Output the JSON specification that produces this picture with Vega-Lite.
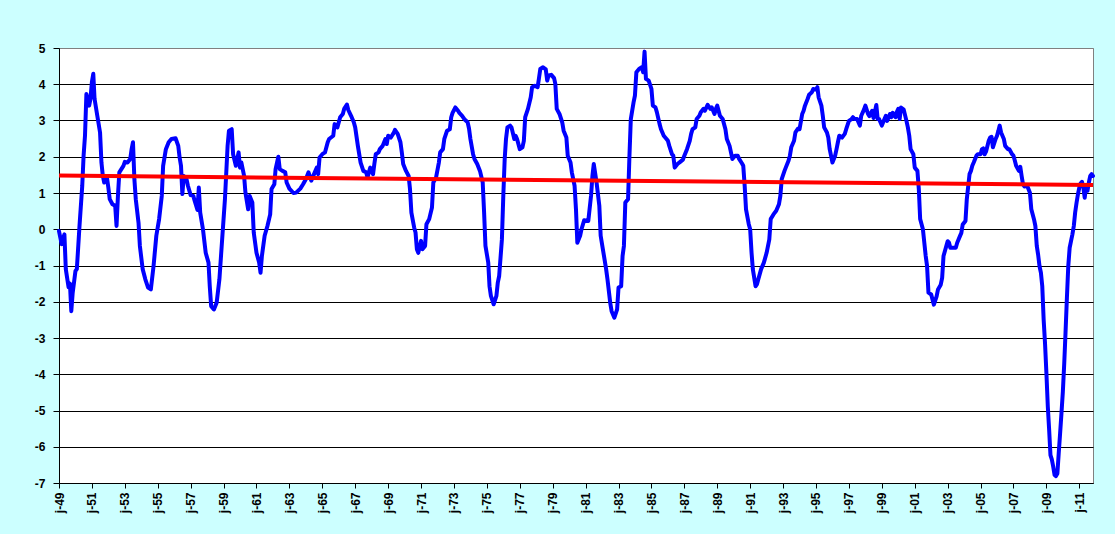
{
  "$schema": "https://vega.github.io/schema/vega-lite/v6.json",
  "width": 1034,
  "height": 435,
  "autosize": {"type": "none"},
  "padding": {"left": 59, "top": 48, "right": 22, "bottom": 51},
  "background": "#CCFFFF",
  "config": {
    "view": {"fill": "white", "stroke": "#808080", "strokeWidth": 1},
    "axis": {
      "labelFont": "Liberation Sans",
      "labelFontWeight": "bold",
      "labelFontSize": 12,
      "labelColor": "black",
      "domainColor": "black",
      "tickColor": "black",
      "title": null
    }
  },
  "datasets": {
    "series": [
      {"month": "1949-01-01", "value": -0.05}, {"month": "1949-03-01", "value": -0.41}, {"month": "1949-05-01", "value": -0.14},
      {"month": "1949-06-01", "value": -1.1}, {"month": "1949-08-01", "value": -1.6}, {"month": "1949-09-01", "value": -1.5},
      {"month": "1949-10-01", "value": -2.26}, {"month": "1949-11-01", "value": -1.75}, {"month": "1950-01-01", "value": -1.15},
      {"month": "1950-02-01", "value": -1.1}, {"month": "1950-04-01", "value": 0.09}, {"month": "1950-06-01", "value": 1.2},
      {"month": "1950-07-01", "value": 2.03}, {"month": "1950-08-01", "value": 2.58}, {"month": "1950-09-01", "value": 3.73},
      {"month": "1950-11-01", "value": 3.41}, {"month": "1950-12-01", "value": 3.6}, {"month": "1951-01-01", "value": 4.06},
      {"month": "1951-02-01", "value": 4.29}, {"month": "1951-03-01", "value": 3.6}, {"month": "1951-05-01", "value": 3.13},
      {"month": "1951-07-01", "value": 2.67}, {"month": "1951-08-01", "value": 1.84}, {"month": "1951-09-01", "value": 1.47},
      {"month": "1951-10-01", "value": 1.29}, {"month": "1951-12-01", "value": 1.43}, {"month": "1952-01-01", "value": 1.15},
      {"month": "1952-02-01", "value": 0.83}, {"month": "1952-04-01", "value": 0.69}, {"month": "1952-06-01", "value": 0.65},
      {"month": "1952-07-01", "value": 0.09}, {"month": "1952-08-01", "value": 0.92}, {"month": "1952-09-01", "value": 1.57},
      {"month": "1952-12-01", "value": 1.75}, {"month": "1953-01-01", "value": 1.86}, {"month": "1953-03-01", "value": 1.84},
      {"month": "1953-05-01", "value": 1.94}, {"month": "1953-06-01", "value": 2.21}, {"month": "1953-07-01", "value": 2.4},
      {"month": "1953-08-01", "value": 1.38}, {"month": "1953-09-01", "value": 0.83}, {"month": "1953-11-01", "value": 0.18},
      {"month": "1953-12-01", "value": -0.46}, {"month": "1954-02-01", "value": -1.1}, {"month": "1954-04-01", "value": -1.38},
      {"month": "1954-06-01", "value": -1.61}, {"month": "1954-08-01", "value": -1.66}, {"month": "1954-10-01", "value": -1.01},
      {"month": "1954-12-01", "value": -0.18}, {"month": "1955-02-01", "value": 0.28}, {"month": "1955-04-01", "value": 0.92},
      {"month": "1955-05-01", "value": 1.75}, {"month": "1955-07-01", "value": 2.21}, {"month": "1955-09-01", "value": 2.4},
      {"month": "1955-11-01", "value": 2.49}, {"month": "1956-02-01", "value": 2.51}, {"month": "1956-04-01", "value": 2.3},
      {"month": "1956-05-01", "value": 1.98}, {"month": "1956-06-01", "value": 1.75}, {"month": "1956-07-01", "value": 0.97},
      {"month": "1956-08-01", "value": 1.47}, {"month": "1956-10-01", "value": 1.38}, {"month": "1956-11-01", "value": 1.2},
      {"month": "1957-01-01", "value": 0.94}, {"month": "1957-03-01", "value": 0.92}, {"month": "1957-04-01", "value": 0.78},
      {"month": "1957-06-01", "value": 0.53}, {"month": "1957-07-01", "value": 1.15}, {"month": "1957-08-01", "value": 0.46},
      {"month": "1957-10-01", "value": 0}, {"month": "1957-12-01", "value": -0.65}, {"month": "1958-02-01", "value": -0.92},
      {"month": "1958-03-01", "value": -1.57}, {"month": "1958-04-01", "value": -2.12}, {"month": "1958-06-01", "value": -2.21},
      {"month": "1958-08-01", "value": -2.03}, {"month": "1958-10-01", "value": -1.38}, {"month": "1958-12-01", "value": -0.28},
      {"month": "1959-02-01", "value": 0.83}, {"month": "1959-04-01", "value": 2.3}, {"month": "1959-05-01", "value": 2.72},
      {"month": "1959-07-01", "value": 2.76}, {"month": "1959-08-01", "value": 2.07}, {"month": "1959-10-01", "value": 1.75},
      {"month": "1959-12-01", "value": 2.12}, {"month": "1960-01-01", "value": 1.7}, {"month": "1960-02-01", "value": 1.84},
      {"month": "1960-04-01", "value": 1.47}, {"month": "1960-05-01", "value": 1.01}, {"month": "1960-07-01", "value": 0.55},
      {"month": "1960-08-01", "value": 0.92}, {"month": "1960-10-01", "value": 0.74}, {"month": "1960-11-01", "value": -0.09},
      {"month": "1961-01-01", "value": -0.65}, {"month": "1961-03-01", "value": -0.92}, {"month": "1961-04-01", "value": -1.2},
      {"month": "1961-05-01", "value": -0.74}, {"month": "1961-07-01", "value": -0.18}, {"month": "1961-09-01", "value": 0.09},
      {"month": "1961-11-01", "value": 0.41}, {"month": "1961-12-01", "value": 1.11}, {"month": "1962-02-01", "value": 1.24},
      {"month": "1962-03-01", "value": 1.66}, {"month": "1962-05-01", "value": 2.0}, {"month": "1962-06-01", "value": 1.66},
      {"month": "1962-08-01", "value": 1.61}, {"month": "1962-10-01", "value": 1.57}, {"month": "1962-11-01", "value": 1.29},
      {"month": "1963-01-01", "value": 1.12}, {"month": "1963-04-01", "value": 1.0}, {"month": "1963-06-01", "value": 1.01},
      {"month": "1963-09-01", "value": 1.12}, {"month": "1963-11-01", "value": 1.24}, {"month": "1964-01-01", "value": 1.38},
      {"month": "1964-03-01", "value": 1.57}, {"month": "1964-05-01", "value": 1.34}, {"month": "1964-07-01", "value": 1.52},
      {"month": "1964-09-01", "value": 1.7}, {"month": "1964-10-01", "value": 1.52}, {"month": "1964-11-01", "value": 1.98},
      {"month": "1965-01-01", "value": 2.07}, {"month": "1965-03-01", "value": 2.12}, {"month": "1965-05-01", "value": 2.4},
      {"month": "1965-06-01", "value": 2.49}, {"month": "1965-09-01", "value": 2.58}, {"month": "1965-10-01", "value": 2.9},
      {"month": "1965-12-01", "value": 2.81}, {"month": "1966-02-01", "value": 3.09}, {"month": "1966-04-01", "value": 3.18},
      {"month": "1966-05-01", "value": 3.32}, {"month": "1966-07-01", "value": 3.44}, {"month": "1966-08-01", "value": 3.29},
      {"month": "1966-10-01", "value": 3.13}, {"month": "1966-12-01", "value": 2.95}, {"month": "1967-01-01", "value": 2.81},
      {"month": "1967-03-01", "value": 2.3}, {"month": "1967-05-01", "value": 1.84}, {"month": "1967-07-01", "value": 1.61},
      {"month": "1967-09-01", "value": 1.57}, {"month": "1967-10-01", "value": 1.43}, {"month": "1967-12-01", "value": 1.7},
      {"month": "1968-02-01", "value": 1.52}, {"month": "1968-03-01", "value": 1.8}, {"month": "1968-04-01", "value": 2.07},
      {"month": "1968-06-01", "value": 2.12}, {"month": "1968-07-01", "value": 2.21}, {"month": "1968-09-01", "value": 2.3},
      {"month": "1968-11-01", "value": 2.49}, {"month": "1968-12-01", "value": 2.35}, {"month": "1969-01-01", "value": 2.58},
      {"month": "1969-03-01", "value": 2.53}, {"month": "1969-05-01", "value": 2.65}, {"month": "1969-06-01", "value": 2.74},
      {"month": "1969-08-01", "value": 2.63}, {"month": "1969-10-01", "value": 2.4}, {"month": "1969-11-01", "value": 2.12},
      {"month": "1969-12-01", "value": 1.8}, {"month": "1970-02-01", "value": 1.61}, {"month": "1970-04-01", "value": 1.47},
      {"month": "1970-05-01", "value": 1.11}, {"month": "1970-06-01", "value": 0.46}, {"month": "1970-08-01", "value": 0.05},
      {"month": "1970-09-01", "value": -0.09}, {"month": "1970-10-01", "value": -0.55}, {"month": "1970-11-01", "value": -0.65},
      {"month": "1971-01-01", "value": -0.32}, {"month": "1971-02-01", "value": -0.55}, {"month": "1971-04-01", "value": -0.46},
      {"month": "1971-05-01", "value": 0.14}, {"month": "1971-07-01", "value": 0.28}, {"month": "1971-09-01", "value": 0.6},
      {"month": "1971-10-01", "value": 1.29}, {"month": "1971-12-01", "value": 1.43}, {"month": "1972-02-01", "value": 1.84},
      {"month": "1972-03-01", "value": 2.12}, {"month": "1972-05-01", "value": 2.21}, {"month": "1972-06-01", "value": 2.49},
      {"month": "1972-08-01", "value": 2.72}, {"month": "1972-10-01", "value": 2.76}, {"month": "1972-11-01", "value": 3.09},
      {"month": "1972-12-01", "value": 3.21}, {"month": "1973-02-01", "value": 3.36}, {"month": "1973-04-01", "value": 3.27},
      {"month": "1973-05-01", "value": 3.21}, {"month": "1973-07-01", "value": 3.13}, {"month": "1973-09-01", "value": 3.02},
      {"month": "1973-11-01", "value": 2.95}, {"month": "1973-12-01", "value": 2.78}, {"month": "1974-01-01", "value": 2.49},
      {"month": "1974-03-01", "value": 2.07}, {"month": "1974-04-01", "value": 1.94}, {"month": "1974-06-01", "value": 1.8},
      {"month": "1974-08-01", "value": 1.61}, {"month": "1974-10-01", "value": 1.29}, {"month": "1974-11-01", "value": 0.46},
      {"month": "1974-12-01", "value": -0.46}, {"month": "1975-02-01", "value": -0.92}, {"month": "1975-03-01", "value": -1.57},
      {"month": "1975-04-01", "value": -1.84}, {"month": "1975-06-01", "value": -2.07}, {"month": "1975-08-01", "value": -1.84},
      {"month": "1975-09-01", "value": -1.47}, {"month": "1975-10-01", "value": -1.29}, {"month": "1975-12-01", "value": -0.28},
      {"month": "1976-01-01", "value": 0.92}, {"month": "1976-02-01", "value": 1.94}, {"month": "1976-03-01", "value": 2.49},
      {"month": "1976-04-01", "value": 2.81}, {"month": "1976-06-01", "value": 2.86}, {"month": "1976-07-01", "value": 2.81},
      {"month": "1976-09-01", "value": 2.49}, {"month": "1976-10-01", "value": 2.58}, {"month": "1976-11-01", "value": 2.49},
      {"month": "1977-01-01", "value": 2.21}, {"month": "1977-03-01", "value": 2.26}, {"month": "1977-04-01", "value": 2.44},
      {"month": "1977-05-01", "value": 3.09}, {"month": "1977-07-01", "value": 3.32}, {"month": "1977-09-01", "value": 3.64},
      {"month": "1977-10-01", "value": 3.92}, {"month": "1977-12-01", "value": 3.96}, {"month": "1978-02-01", "value": 3.92},
      {"month": "1978-03-01", "value": 4.15}, {"month": "1978-04-01", "value": 4.42}, {"month": "1978-06-01", "value": 4.47},
      {"month": "1978-08-01", "value": 4.41}, {"month": "1978-09-01", "value": 4.1}, {"month": "1978-10-01", "value": 4.24},
      {"month": "1978-12-01", "value": 4.26}, {"month": "1979-02-01", "value": 4.17}, {"month": "1979-03-01", "value": 4.01},
      {"month": "1979-04-01", "value": 3.32}, {"month": "1979-06-01", "value": 3.18}, {"month": "1979-08-01", "value": 2.95},
      {"month": "1979-09-01", "value": 2.72}, {"month": "1979-11-01", "value": 2.53}, {"month": "1979-12-01", "value": 2.03},
      {"month": "1980-02-01", "value": 1.84}, {"month": "1980-03-01", "value": 1.57}, {"month": "1980-05-01", "value": 1.2},
      {"month": "1980-06-01", "value": 0.55}, {"month": "1980-07-01", "value": -0.37}, {"month": "1980-09-01", "value": -0.18},
      {"month": "1980-10-01", "value": 0}, {"month": "1980-12-01", "value": 0.25}, {"month": "1981-03-01", "value": 0.23},
      {"month": "1981-05-01", "value": 0.92}, {"month": "1981-06-01", "value": 1.47}, {"month": "1981-07-01", "value": 1.8},
      {"month": "1981-09-01", "value": 1.29}, {"month": "1981-11-01", "value": 0.65}, {"month": "1981-12-01", "value": -0.18},
      {"month": "1982-02-01", "value": -0.65}, {"month": "1982-04-01", "value": -1.1}, {"month": "1982-05-01", "value": -1.38},
      {"month": "1982-07-01", "value": -2.03}, {"month": "1982-08-01", "value": -2.26}, {"month": "1982-10-01", "value": -2.44},
      {"month": "1982-12-01", "value": -2.21}, {"month": "1983-01-01", "value": -1.61}, {"month": "1983-03-01", "value": -1.57},
      {"month": "1983-04-01", "value": -0.74}, {"month": "1983-05-01", "value": -0.46}, {"month": "1983-06-01", "value": 0.74},
      {"month": "1983-08-01", "value": 0.83}, {"month": "1983-09-01", "value": 2.03}, {"month": "1983-10-01", "value": 3.04},
      {"month": "1983-12-01", "value": 3.5}, {"month": "1984-01-01", "value": 3.69}, {"month": "1984-02-01", "value": 4.33},
      {"month": "1984-04-01", "value": 4.42}, {"month": "1984-06-01", "value": 4.47}, {"month": "1984-07-01", "value": 4.33},
      {"month": "1984-08-01", "value": 4.9}, {"month": "1984-09-01", "value": 4.15}, {"month": "1984-11-01", "value": 4.1},
      {"month": "1985-01-01", "value": 3.87}, {"month": "1985-02-01", "value": 3.41}, {"month": "1985-04-01", "value": 3.36},
      {"month": "1985-05-01", "value": 3.23}, {"month": "1985-07-01", "value": 2.9}, {"month": "1985-08-01", "value": 2.76},
      {"month": "1985-10-01", "value": 2.58}, {"month": "1985-12-01", "value": 2.49}, {"month": "1986-01-01", "value": 2.44},
      {"month": "1986-02-01", "value": 2.3}, {"month": "1986-04-01", "value": 2.07}, {"month": "1986-05-01", "value": 2.03},
      {"month": "1986-06-01", "value": 1.7}, {"month": "1986-08-01", "value": 1.8}, {"month": "1986-10-01", "value": 1.86},
      {"month": "1986-12-01", "value": 1.92}, {"month": "1987-01-01", "value": 2.03}, {"month": "1987-03-01", "value": 2.21},
      {"month": "1987-05-01", "value": 2.44}, {"month": "1987-06-01", "value": 2.63}, {"month": "1987-07-01", "value": 2.76},
      {"month": "1987-09-01", "value": 2.81}, {"month": "1987-10-01", "value": 3.04}, {"month": "1987-12-01", "value": 3.13},
      {"month": "1988-01-01", "value": 3.23}, {"month": "1988-03-01", "value": 3.32}, {"month": "1988-04-01", "value": 3.27},
      {"month": "1988-06-01", "value": 3.43}, {"month": "1988-08-01", "value": 3.32}, {"month": "1988-09-01", "value": 3.36},
      {"month": "1988-11-01", "value": 3.18}, {"month": "1988-12-01", "value": 3.32}, {"month": "1989-01-01", "value": 3.41},
      {"month": "1989-03-01", "value": 3.13}, {"month": "1989-05-01", "value": 3.04}, {"month": "1989-07-01", "value": 2.76},
      {"month": "1989-08-01", "value": 2.49}, {"month": "1989-10-01", "value": 2.3}, {"month": "1989-11-01", "value": 2.12},
      {"month": "1989-12-01", "value": 1.94}, {"month": "1990-02-01", "value": 2.03}, {"month": "1990-04-01", "value": 2.03},
      {"month": "1990-05-01", "value": 1.94}, {"month": "1990-07-01", "value": 1.82}, {"month": "1990-08-01", "value": 1.75},
      {"month": "1990-09-01", "value": 1.2}, {"month": "1990-10-01", "value": 0.55}, {"month": "1990-12-01", "value": 0.14},
      {"month": "1991-01-01", "value": 0}, {"month": "1991-02-01", "value": -0.65}, {"month": "1991-03-01", "value": -1.1},
      {"month": "1991-05-01", "value": -1.57}, {"month": "1991-06-01", "value": -1.52}, {"month": "1991-07-01", "value": -1.38},
      {"month": "1991-09-01", "value": -1.1}, {"month": "1991-11-01", "value": -0.92}, {"month": "1992-01-01", "value": -0.65},
      {"month": "1992-03-01", "value": -0.28}, {"month": "1992-04-01", "value": 0.28}, {"month": "1992-06-01", "value": 0.41},
      {"month": "1992-08-01", "value": 0.51}, {"month": "1992-10-01", "value": 0.69}, {"month": "1992-11-01", "value": 0.92},
      {"month": "1992-12-01", "value": 1.38}, {"month": "1993-02-01", "value": 1.61}, {"month": "1993-03-01", "value": 1.7},
      {"month": "1993-05-01", "value": 1.89}, {"month": "1993-06-01", "value": 2.03}, {"month": "1993-07-01", "value": 2.26},
      {"month": "1993-09-01", "value": 2.44}, {"month": "1993-10-01", "value": 2.67}, {"month": "1993-12-01", "value": 2.78},
      {"month": "1994-01-01", "value": 2.76}, {"month": "1994-03-01", "value": 3.18}, {"month": "1994-04-01", "value": 3.27},
      {"month": "1994-05-01", "value": 3.41}, {"month": "1994-07-01", "value": 3.6}, {"month": "1994-08-01", "value": 3.71},
      {"month": "1994-10-01", "value": 3.78}, {"month": "1994-11-01", "value": 3.87}, {"month": "1995-01-01", "value": 3.85},
      {"month": "1995-02-01", "value": 3.92}, {"month": "1995-03-01", "value": 3.64}, {"month": "1995-05-01", "value": 3.41},
      {"month": "1995-06-01", "value": 3.13}, {"month": "1995-07-01", "value": 2.81}, {"month": "1995-09-01", "value": 2.67},
      {"month": "1995-10-01", "value": 2.53}, {"month": "1995-11-01", "value": 2.21}, {"month": "1995-12-01", "value": 2.03},
      {"month": "1996-01-01", "value": 1.84}, {"month": "1996-03-01", "value": 2.03}, {"month": "1996-04-01", "value": 2.21},
      {"month": "1996-05-01", "value": 2.4}, {"month": "1996-06-01", "value": 2.58}, {"month": "1996-08-01", "value": 2.53},
      {"month": "1996-10-01", "value": 2.63}, {"month": "1996-11-01", "value": 2.76}, {"month": "1997-01-01", "value": 2.99},
      {"month": "1997-03-01", "value": 3.04}, {"month": "1997-04-01", "value": 3.09}, {"month": "1997-05-01", "value": 3.04},
      {"month": "1997-07-01", "value": 3.04}, {"month": "1997-09-01", "value": 2.86}, {"month": "1997-10-01", "value": 3.13},
      {"month": "1997-12-01", "value": 3.3}, {"month": "1998-01-01", "value": 3.41}, {"month": "1998-03-01", "value": 3.18},
      {"month": "1998-04-01", "value": 3.12}, {"month": "1998-06-01", "value": 3.27}, {"month": "1998-07-01", "value": 3.07},
      {"month": "1998-09-01", "value": 3.43}, {"month": "1998-10-01", "value": 3.04}, {"month": "1998-11-01", "value": 3.04},
      {"month": "1999-01-01", "value": 2.86}, {"month": "1999-03-01", "value": 3.04}, {"month": "1999-04-01", "value": 3.13},
      {"month": "1999-05-01", "value": 2.99}, {"month": "1999-07-01", "value": 3.18}, {"month": "1999-08-01", "value": 3.09},
      {"month": "1999-09-01", "value": 3.21}, {"month": "1999-11-01", "value": 3.09}, {"month": "1999-12-01", "value": 3.24},
      {"month": "2000-01-01", "value": 3.32}, {"month": "2000-02-01", "value": 3.04}, {"month": "2000-03-01", "value": 3.36},
      {"month": "2000-05-01", "value": 3.3}, {"month": "2000-07-01", "value": 2.99}, {"month": "2000-08-01", "value": 2.81},
      {"month": "2000-09-01", "value": 2.58}, {"month": "2000-10-01", "value": 2.21}, {"month": "2000-12-01", "value": 2.07},
      {"month": "2001-01-01", "value": 1.7}, {"month": "2001-03-01", "value": 1.61}, {"month": "2001-04-01", "value": 1.11},
      {"month": "2001-05-01", "value": 0.28}, {"month": "2001-07-01", "value": 0}, {"month": "2001-08-01", "value": -0.37},
      {"month": "2001-09-01", "value": -0.74}, {"month": "2001-10-01", "value": -1.01}, {"month": "2001-11-01", "value": -1.75},
      {"month": "2002-01-01", "value": -1.8}, {"month": "2002-03-01", "value": -2.08}, {"month": "2002-05-01", "value": -1.85},
      {"month": "2002-06-01", "value": -1.66}, {"month": "2002-08-01", "value": -1.53}, {"month": "2002-09-01", "value": -1.34},
      {"month": "2002-10-01", "value": -0.74}, {"month": "2002-12-01", "value": -0.47}, {"month": "2003-01-01", "value": -0.33},
      {"month": "2003-02-01", "value": -0.37}, {"month": "2003-03-01", "value": -0.51}, {"month": "2003-05-01", "value": -0.51},
      {"month": "2003-07-01", "value": -0.51}, {"month": "2003-08-01", "value": -0.37}, {"month": "2003-10-01", "value": -0.19},
      {"month": "2003-11-01", "value": -0.1}, {"month": "2003-12-01", "value": 0.13}, {"month": "2004-02-01", "value": 0.23},
      {"month": "2004-03-01", "value": 0.83}, {"month": "2004-05-01", "value": 1.52}, {"month": "2004-06-01", "value": 1.61},
      {"month": "2004-07-01", "value": 1.75}, {"month": "2004-08-01", "value": 1.84}, {"month": "2004-10-01", "value": 2.03},
      {"month": "2004-11-01", "value": 2.07}, {"month": "2005-01-01", "value": 2.07}, {"month": "2005-02-01", "value": 2.21},
      {"month": "2005-03-01", "value": 2.23}, {"month": "2005-04-01", "value": 2.07}, {"month": "2005-05-01", "value": 2.14},
      {"month": "2005-07-01", "value": 2.44}, {"month": "2005-08-01", "value": 2.53}, {"month": "2005-09-01", "value": 2.55},
      {"month": "2005-10-01", "value": 2.26}, {"month": "2005-12-01", "value": 2.49}, {"month": "2006-01-01", "value": 2.58},
      {"month": "2006-02-01", "value": 2.72}, {"month": "2006-03-01", "value": 2.86}, {"month": "2006-04-01", "value": 2.67},
      {"month": "2006-06-01", "value": 2.49}, {"month": "2006-07-01", "value": 2.3}, {"month": "2006-09-01", "value": 2.21},
      {"month": "2006-10-01", "value": 2.21}, {"month": "2006-12-01", "value": 2.07}, {"month": "2007-01-01", "value": 2.03},
      {"month": "2007-02-01", "value": 1.89}, {"month": "2007-03-01", "value": 1.75}, {"month": "2007-05-01", "value": 1.61},
      {"month": "2007-06-01", "value": 1.72}, {"month": "2007-07-01", "value": 1.47}, {"month": "2007-08-01", "value": 1.24},
      {"month": "2007-09-01", "value": 1.18}, {"month": "2007-11-01", "value": 1.2}, {"month": "2008-01-01", "value": 1.01},
      {"month": "2008-02-01", "value": 0.55}, {"month": "2008-04-01", "value": 0.27}, {"month": "2008-05-01", "value": 0.09},
      {"month": "2008-06-01", "value": -0.46}, {"month": "2008-07-01", "value": -0.7}, {"month": "2008-08-01", "value": -1.02},
      {"month": "2008-09-01", "value": -1.2}, {"month": "2008-10-01", "value": -1.57}, {"month": "2008-11-01", "value": -2.5},
      {"month": "2008-12-01", "value": -3.14}, {"month": "2009-01-01", "value": -3.97}, {"month": "2009-02-01", "value": -4.89},
      {"month": "2009-03-01", "value": -5.49}, {"month": "2009-04-01", "value": -6.23}, {"month": "2009-05-01", "value": -6.35},
      {"month": "2009-06-01", "value": -6.55}, {"month": "2009-07-01", "value": -6.78}, {"month": "2009-08-01", "value": -6.81},
      {"month": "2009-09-01", "value": -6.74}, {"month": "2009-10-01", "value": -6.18}, {"month": "2009-11-01", "value": -5.63},
      {"month": "2009-12-01", "value": -5.08}, {"month": "2010-01-01", "value": -4.48}, {"month": "2010-02-01", "value": -3.69},
      {"month": "2010-03-01", "value": -2.86}, {"month": "2010-04-01", "value": -1.89}, {"month": "2010-05-01", "value": -1.02},
      {"month": "2010-06-01", "value": -0.51}, {"month": "2010-07-01", "value": -0.33}, {"month": "2010-08-01", "value": -0.14},
      {"month": "2010-09-01", "value": 0.09}, {"month": "2010-10-01", "value": 0.46}, {"month": "2010-11-01", "value": 0.73},
      {"month": "2010-12-01", "value": 0.96}, {"month": "2011-01-01", "value": 1.15}, {"month": "2011-02-01", "value": 1.27},
      {"month": "2011-03-01", "value": 1.31}, {"month": "2011-04-01", "value": 1.15}, {"month": "2011-05-01", "value": 0.87},
      {"month": "2011-06-01", "value": 1.2}, {"month": "2011-07-01", "value": 1.06}, {"month": "2011-08-01", "value": 1.29},
      {"month": "2011-09-01", "value": 1.47}, {"month": "2011-10-01", "value": 1.52}, {"month": "2011-11-01", "value": 1.47}
    ],
    "trend": [
      {"month": "1949-01-01", "value": 1.48},
      {"month": "2011-11-01", "value": 1.22}
    ]
  },
  "layer": [
    {
      "data": {"name": "series"},
      "mark": {"type": "line", "color": "#0000FF", "strokeWidth": 4, "strokeJoin": "round", "strokeCap": "round"},
      "encoding": {
        "x": {
          "field": "month",
          "type": "temporal",
          "scale": {
            "type": "utc",
            "nice": false,
            "domain": [
              {"year": 1949, "month": 1, "date": 1, "utc": true},
              {"year": 2011, "month": 11, "date": 1, "utc": true}
            ]
          },
          "axis": {
            "values": [
              {"year": 1949, "month": 1, "date": 1, "utc": true}, {"year": 1951, "month": 1, "date": 1, "utc": true},
              {"year": 1953, "month": 1, "date": 1, "utc": true}, {"year": 1955, "month": 1, "date": 1, "utc": true},
              {"year": 1957, "month": 1, "date": 1, "utc": true}, {"year": 1959, "month": 1, "date": 1, "utc": true},
              {"year": 1961, "month": 1, "date": 1, "utc": true}, {"year": 1963, "month": 1, "date": 1, "utc": true},
              {"year": 1965, "month": 1, "date": 1, "utc": true}, {"year": 1967, "month": 1, "date": 1, "utc": true},
              {"year": 1969, "month": 1, "date": 1, "utc": true}, {"year": 1971, "month": 1, "date": 1, "utc": true},
              {"year": 1973, "month": 1, "date": 1, "utc": true}, {"year": 1975, "month": 1, "date": 1, "utc": true},
              {"year": 1977, "month": 1, "date": 1, "utc": true}, {"year": 1979, "month": 1, "date": 1, "utc": true},
              {"year": 1981, "month": 1, "date": 1, "utc": true}, {"year": 1983, "month": 1, "date": 1, "utc": true},
              {"year": 1985, "month": 1, "date": 1, "utc": true}, {"year": 1987, "month": 1, "date": 1, "utc": true},
              {"year": 1989, "month": 1, "date": 1, "utc": true}, {"year": 1991, "month": 1, "date": 1, "utc": true},
              {"year": 1993, "month": 1, "date": 1, "utc": true}, {"year": 1995, "month": 1, "date": 1, "utc": true},
              {"year": 1997, "month": 1, "date": 1, "utc": true}, {"year": 1999, "month": 1, "date": 1, "utc": true},
              {"year": 2001, "month": 1, "date": 1, "utc": true}, {"year": 2003, "month": 1, "date": 1, "utc": true},
              {"year": 2005, "month": 1, "date": 1, "utc": true}, {"year": 2007, "month": 1, "date": 1, "utc": true},
              {"year": 2009, "month": 1, "date": 1, "utc": true}, {"year": 2011, "month": 1, "date": 1, "utc": true}
            ],
            "tickCount": 100,
            "labelExpr": "'j-' + utcFormat(datum.value, '%y')",
            "labelAngle": -90,
            "tickSize": 5,
            "labelPadding": 4,
            "grid": false,
            "labelFlush": false,
            "labelOverlap": false
          }
        },
        "y": {
          "field": "value",
          "type": "quantitative",
          "scale": {"domain": [-7, 5], "nice": false, "zero": false},
          "axis": {
            "values": [-7, -6, -5, -4, -3, -2, -1, 0, 1, 2, 3, 4, 5],
            "tickCount": 100,
            "labelExpr": "'' + datum.value",
            "tickSize": 6,
            "labelPadding": 8,
            "labelOverlap": false,
            "grid": true,
            "gridColor": {"condition": {"test": "datum.value === 5", "value": "#808080"}, "value": "black"},
            "gridOpacity": 1,
            "gridWidth": 1
          }
        }
      }
    },
    {
      "data": {"name": "trend"},
      "mark": {"type": "line", "color": "#FF0000", "strokeWidth": 4},
      "encoding": {
        "x": {"field": "month", "type": "temporal"},
        "y": {"field": "value", "type": "quantitative"}
      }
    }
  ]
}
